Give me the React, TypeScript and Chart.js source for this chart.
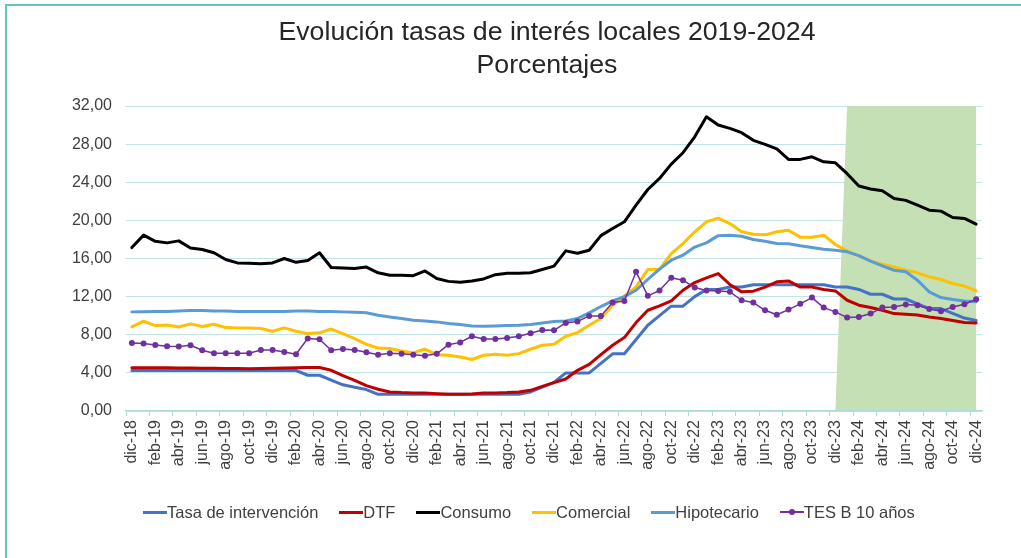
import React, { useEffect, useRef } from "react";
import { Chart, registerables } from "chart.js";

Chart.register(...registerables);

// ---------- data ----------
const categories: string[] = [
  "dic-18",
  "ene-19", "feb-19", "mar-19", "abr-19", "may-19", "jun-19", "jul-19", "ago-19", "sep-19", "oct-19", "nov-19", "dic-19",
  "ene-20", "feb-20", "mar-20", "abr-20", "may-20", "jun-20", "jul-20", "ago-20", "sep-20", "oct-20", "nov-20", "dic-20",
  "ene-21", "feb-21", "mar-21", "abr-21", "may-21", "jun-21", "jul-21", "ago-21", "sep-21", "oct-21", "nov-21", "dic-21",
  "ene-22", "feb-22", "mar-22", "abr-22", "may-22", "jun-22", "jul-22", "ago-22", "sep-22", "oct-22", "nov-22", "dic-22",
  "ene-23", "feb-23", "mar-23", "abr-23", "may-23", "jun-23", "jul-23", "ago-23", "sep-23", "oct-23", "nov-23", "dic-23",
  "ene-24", "feb-24", "mar-24", "abr-24", "may-24", "jun-24", "jul-24", "ago-24", "sep-24", "oct-24", "nov-24", "dic-24",
];

const tasaIntervencion: number[] = [
  4.25,
  4.25, 4.25, 4.25, 4.25, 4.25, 4.25, 4.25, 4.25, 4.25, 4.25, 4.25, 4.25,
  4.25, 4.25, 3.75, 3.75, 3.25, 2.75, 2.5, 2.25, 1.75, 1.75, 1.75, 1.75,
  1.75, 1.75, 1.75, 1.75, 1.75, 1.75, 1.75, 1.75, 1.75, 2.0, 2.5, 3.0,
  4.0, 4.0, 4.0, 5.0, 6.0, 6.0, 7.5, 9.0, 10.0, 11.0, 11.0, 12.0,
  12.75, 12.75, 13.0, 13.0, 13.25, 13.25, 13.25, 13.25, 13.25, 13.25, 13.25, 13.0,
  13.0, 12.75, 12.25, 12.25, 11.75, 11.75, 11.25, 10.75, 10.75, 10.25, 9.75, 9.5,
];

const dtf: number[] = [
  4.54,
  4.55, 4.55, 4.53, 4.52, 4.5, 4.49, 4.48, 4.47, 4.45, 4.42, 4.45, 4.48,
  4.52, 4.54, 4.56, 4.56, 4.27, 3.71, 3.22, 2.66, 2.28, 2.0, 1.93, 1.89,
  1.89, 1.82, 1.75, 1.75, 1.79, 1.89, 1.89, 1.93, 2.0, 2.17, 2.59, 2.98,
  3.36, 4.27, 4.9, 5.92, 6.9, 7.7, 9.28, 10.57, 11.03, 11.55, 12.67, 13.48,
  13.97, 14.42, 13.27, 12.5, 12.57, 13.0, 13.55, 13.65, 13.0, 13.0, 12.74, 12.6,
  11.62, 11.1, 10.85, 10.57, 10.22, 10.15, 10.08, 9.87, 9.7, 9.49, 9.28, 9.24,
];

const consumo: number[] = [
  17.15,
  18.45, 17.8, 17.64, 17.85, 17.1, 16.94, 16.6, 15.9, 15.54, 15.5, 15.44, 15.54,
  16.0, 15.6, 15.8, 16.6, 15.05, 15.0, 14.95, 15.1, 14.5, 14.25, 14.25, 14.2,
  14.7, 13.9, 13.6, 13.5, 13.65, 13.86, 14.3, 14.45, 14.45, 14.5, 14.84, 15.2,
  16.8, 16.55, 16.87, 18.4, 19.15, 19.85, 21.6, 23.24, 24.4, 25.9, 27.1, 28.77,
  30.87, 30.0, 29.65, 29.2, 28.4, 27.97, 27.5, 26.4, 26.4, 26.67, 26.15, 26.04,
  24.9, 23.6, 23.3, 23.1, 22.3, 22.1, 21.6, 21.07, 20.97, 20.3, 20.2, 19.6,
];

const comercial: number[] = [
  8.82,
  9.42, 8.96, 9.03, 8.82, 9.14, 8.86, 9.1, 8.75, 8.72, 8.72, 8.65, 8.37,
  8.72, 8.37, 8.12, 8.2, 8.6, 8.12, 7.6, 7.0, 6.6, 6.55, 6.3, 6.1,
  6.5, 5.9, 5.85, 5.67, 5.4, 5.85, 5.95, 5.85, 6.02, 6.48, 6.9, 7.0,
  7.84, 8.23, 9.0, 9.7, 11.1, 12.04, 13.02, 14.84, 14.88, 16.52, 17.57, 18.8,
  19.85, 20.23, 19.67, 18.8, 18.55, 18.48, 18.8, 18.97, 18.24, 18.24, 18.45, 17.47,
  16.8, 16.24, 15.75, 15.4, 15.12, 14.77, 14.5, 14.07, 13.8, 13.37, 13.1, 12.6,
];

const hipotecario: number[] = [
  10.4,
  10.42, 10.45, 10.45, 10.5, 10.55, 10.55, 10.5, 10.48, 10.45, 10.45, 10.45, 10.45,
  10.45, 10.5, 10.5, 10.45, 10.45, 10.4, 10.36, 10.3, 10.05, 9.87, 9.7, 9.52,
  9.45, 9.35, 9.17, 9.07, 8.93, 8.9, 8.92, 8.96, 9.0, 9.07, 9.24, 9.38,
  9.45, 9.7, 10.3, 10.96, 11.55, 12.0, 12.67, 13.8, 14.88, 15.82, 16.35, 17.2,
  17.64, 18.4, 18.45, 18.34, 18.0, 17.8, 17.57, 17.54, 17.33, 17.15, 16.98, 16.87,
  16.7, 16.3, 15.72, 15.23, 14.77, 14.6, 13.72, 12.5, 11.9, 11.69, 11.55, 11.45,
];

const tesB10: number[] = [
  7.14,
  7.07, 6.93, 6.79, 6.76, 6.9, 6.37, 6.06, 6.06, 6.06, 6.06, 6.4, 6.4,
  6.2, 5.95, 7.6, 7.53, 6.37, 6.5, 6.4, 6.16, 5.9, 6.06, 6.0, 5.9,
  5.8, 6.0, 6.96, 7.2, 7.84, 7.56, 7.56, 7.67, 7.84, 8.16, 8.5, 8.47,
  9.24, 9.38, 9.98, 9.98, 11.38, 11.55, 14.6, 12.08, 12.64, 13.97, 13.72, 12.95,
  12.64, 12.6, 12.5, 11.62, 11.38, 10.57, 10.1, 10.64, 11.24, 11.9, 10.85, 10.4,
  9.8, 9.87, 10.22, 10.85, 10.92, 11.17, 11.1, 10.7, 10.47, 10.92, 11.2, 11.73,
];

const seriesNames: string[] = [
  "Tasa de intervención",
  "DTF",
  "Consumo",
  "Comercial",
  "Hipotecario",
  "TES B 10 años",
];
const seriesData: number[][] = [tasaIntervencion, dtf, consumo, comercial, hipotecario, tesB10];
const seriesColors: string[] = ["#4472C4", "#C00000", "#000000", "#FFC000", "#5B9BD5", "#7030A0"];

const titleLines: string[] = ["Evolución tasas de interés locales 2019-2024", "Porcentajes"];

const yMin = 0;
const yMax = 32;
const yStep = 4;

// shaded period (slanted left edge as in the reference)
const shadeStartBottom = "dic-23";
const shadeStartTop = "ene-24";
const shadeEnd = "dic-24";

// ---------- styles ----------
const FONT = '"Liberation Sans", Arial, Helvetica, sans-serif';
const GRID = "rgb(192,229,228)";
const AXIS = "rgb(175,220,218)";
const TEXT = "#404040";
const SHADE = "#C5E0B4";
const FRAME = "#63C5BD";

const shadePlugin = {
  id: "shadePeriod",
  beforeDatasetsDraw(chart: any) {
    const { ctx } = chart;
    const x = chart.scales.x;
    const y = chart.scales.y;
    const xb = x.getPixelForValue(categories.indexOf(shadeStartBottom));
    const xt = x.getPixelForValue(categories.indexOf(shadeStartTop));
    const xe = x.getPixelForValue(categories.indexOf(shadeEnd));
    const yb = y.getPixelForValue(yMin) - 1;
    const yt = y.getPixelForValue(yMax);
    ctx.save();
    ctx.fillStyle = SHADE;
    ctx.beginPath();
    ctx.moveTo(xb, yb);
    ctx.lineTo(xt, yt);
    ctx.lineTo(xe, yt);
    ctx.lineTo(xe, yb);
    ctx.closePath();
    ctx.fill();
    ctx.restore();
  },
};

export default function App() {
  const canvasRef = useRef<HTMLCanvasElement | null>(null);

  useEffect(() => {
    document.body.style.margin = "0";
    document.body.style.overflow = "hidden";
    const canvas = canvasRef.current;
    if (!canvas) return;
    Chart.defaults.font.family = FONT;

    const datasets = seriesNames.map((name, i) => {
      const isTes = i === seriesNames.length - 1;
      return {
        label: name,
        data: seriesData[i],
        borderColor: seriesColors[i],
        backgroundColor: seriesColors[i],
        borderWidth: isTes ? 1.5 : 3,
        pointRadius: isTes ? 3 : 0,
        pointBorderWidth: 0,
        pointBackgroundColor: seriesColors[i],
        pointHoverRadius: isTes ? 3 : 0,
        tension: 0,
        fill: false,
        borderJoinStyle: "round" as const,
        borderCapStyle: "round" as const,
        order: seriesNames.length - i,
      };
    });

    const chart = new Chart(canvas, {
      type: "line",
      data: { labels: categories, datasets },
      options: {
        animation: false,
        responsive: false,
        devicePixelRatio: 1,
        layout: { padding: { left: 0, right: 39, top: 106, bottom: 0 } },
        plugins: {
          legend: { display: false },
          title: { display: false },
          tooltip: { enabled: false },
        },
        scales: {
          x: {
            type: "category",
            offset: true,
            afterFit: (s: any) => {
              s.height = 147;
            },
            grid: {
              offset: true,
              drawOnChartArea: false,
              drawTicks: true,
              tickLength: 5,
              lineWidth: 1,
              color: (ctx: any) =>
                typeof ctx.index === "number" && ctx.index % 2 === 0 ? AXIS : "rgba(0,0,0,0)",
            },
            border: { display: true, color: AXIS, width: 1.5 },
            ticks: {
              autoSkip: false,
              minRotation: 90,
              maxRotation: 90,
              padding: 4,
              color: TEXT,
              font: { size: 16, family: FONT },
              callback: (_v: any, i: number) => (i % 2 === 0 ? categories[i] : ""),
            },
          },
          y: {
            min: yMin,
            max: yMax,
            afterFit: (s: any) => {
              s.width = 126;
            },
            grid: { color: GRID, lineWidth: 1, drawTicks: false },
            border: { display: false },
            ticks: {
              stepSize: yStep,
              padding: 14,
              color: TEXT,
              font: { size: 16, family: FONT },
              callback: (v: any) => Number(v).toFixed(2).replace(".", ","),
            },
          },
        },
      },
      plugins: [shadePlugin],
    });

    return () => {
      chart.destroy();
    };
  }, []);

  return (
    <div
      style={{
        position: "relative",
        width: 1021,
        height: 558,
        overflow: "hidden",
        background: "#ffffff",
        fontFamily: FONT,
      }}
    >
      <div
        style={{
          position: "absolute",
          left: 5,
          top: 4,
          width: 3000,
          height: 3000,
          borderTop: `2px solid ${FRAME}`,
          borderLeft: `2px solid ${FRAME}`,
        }}
      />
      <canvas
        ref={canvasRef}
        width={1021}
        height={558}
        style={{ position: "absolute", left: 0, top: 0, width: 1021, height: 558 }}
      />
      {titleLines.map((t, i) => (
        <div
          key={t}
          style={{
            position: "absolute",
            left: 0,
            width: 1094,
            top: 14.5 + i * 33,
            height: 33,
            lineHeight: "33px",
            textAlign: "center",
            fontSize: 26.7,
            color: "#262626",
            whiteSpace: "nowrap",
          }}
        >
          {t}
        </div>
      ))}
      <div
        style={{
          position: "absolute",
          left: 143,
          top: 502,
          height: 20,
          display: "flex",
          alignItems: "center",
          gap: 21,
          fontSize: 16.5,
          color: TEXT,
          whiteSpace: "nowrap",
        }}
      >
        {seriesNames.map((name, i) => {
          const isTes = i === seriesNames.length - 1;
          return (
            <div key={name} style={{ display: "flex", alignItems: "center" }}>
              <div
                style={{
                  position: "relative",
                  width: 24,
                  height: isTes ? 1.5 : 3,
                  background: seriesColors[i],
                }}
              >
                {isTes && (
                  <div
                    style={{
                      position: "absolute",
                      left: 9,
                      top: -2.25,
                      width: 6,
                      height: 6,
                      borderRadius: "50%",
                      background: seriesColors[i],
                    }}
                  />
                )}
              </div>
              <span style={{ lineHeight: "20px" }}>{name}</span>
            </div>
          );
        })}
      </div>
    </div>
  );
}
